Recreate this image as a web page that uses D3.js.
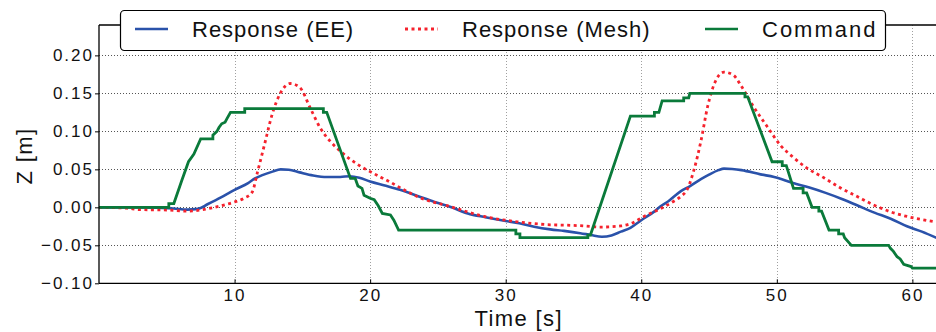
<!DOCTYPE html>
<html>
<head>
<meta charset="utf-8">
<script src="https://cdn.jsdelivr.net/npm/d3@7"></script>
<style>
  html, body { margin: 0; padding: 0; background: #fff; }
  svg { display: block; font-family: "Liberation Sans", Arial, Helvetica, sans-serif; }
</style>
</head>
<body>
<svg id="chart" width="936" height="332"></svg>
<script>
// End-effector response
const timeEE = [0, 3, 5.5, 6.5, 7.3, 8, 9, 10, 11, 11.5, 12, 12.8, 13.4, 14, 14.8, 15.8, 16.8, 17.8, 18.5, 19.2, 20, 21, 22.2, 23.5, 24.7, 26, 27.2, 28.5, 30, 31, 32.1, 33.3, 34.3, 35.5, 36.3, 37.1, 37.8, 38.5, 39.2, 40, 41, 41.4, 42, 42.9, 43.6, 44.4, 45, 45.7, 46.1, 46.7, 47.4, 48.8, 49.8, 51.2, 52.4, 53.6, 54.8, 56, 57.2, 58.4, 59.6, 60.7, 62];
const zEE    = [0, 0, -0.0015, -0.003, -0.002, 0.004, 0.013, 0.023, 0.032, 0.038, 0.042, 0.047, 0.05, 0.0495, 0.046, 0.042, 0.040, 0.040, 0.041, 0.039, 0.034, 0.029, 0.023, 0.015, 0.0074, 0, -0.008, -0.013, -0.018, -0.021, -0.0255, -0.029, -0.031, -0.034, -0.0365, -0.0387, -0.037, -0.032, -0.027, -0.017, -0.005, 0.001, 0.008, 0.021, 0.028, 0.037, 0.043, 0.049, 0.051, 0.0505, 0.049, 0.0434, 0.040, 0.032, 0.026, 0.019, 0.011, 0.002, -0.007, -0.015, -0.025, -0.032, -0.042];

// Mesh response
const timeMesh = [0, 2, 3, 5, 6.5, 7.5, 8.5, 9.2, 10, 10.7, 11.3, 11.7, 12.2, 12.8, 13.4, 14.1, 14.8, 15.6, 16.3, 17.1, 17.8, 18.55, 19.3, 20, 21.5, 22.7, 23.5, 25.9, 28.4, 30.85, 33.3, 34.5, 35.8, 37, 38.5, 39.3, 40.2, 41.4, 42.4, 42.9, 43.4, 43.9, 44.4, 44.9, 45.4, 46.1, 46.8, 47.4, 48.3, 49.3, 50.3, 51.2, 52.2, 53.5, 54.7, 55.9, 57.1, 58.4, 59.6, 60.7, 62];
const zMesh    = [0, -0.001, -0.003, -0.0035, -0.005, -0.0035, 0.0, 0.003, 0.007, 0.012, 0.02, 0.047, 0.082, 0.124, 0.151, 0.163, 0.158, 0.13, 0.105, 0.086, 0.074, 0.063, 0.054, 0.047, 0.033, 0.021, 0.014, 0.001, -0.012, -0.019, -0.023, -0.0235, -0.0245, -0.026, -0.0245, -0.021, -0.012, -0.002, 0.008, 0.014, 0.024, 0.05, 0.087, 0.133, 0.163, 0.178, 0.174, 0.159, 0.132, 0.106, 0.081, 0.066, 0.052, 0.0386, 0.0255, 0.0145, 0.0035, -0.006, -0.012, -0.016, -0.020];

// Commanded position (piecewise, with steps)
const timeCmd = [0, 5.15, 5.15, 5.52, 6.1, 6.6, 7.0, 7.5, 8.4, 8.4, 8.7, 8.85, 9.05, 9.3, 9.45, 9.7, 10.75, 10.75, 16.55, 16.55, 16.8, 18.55, 18.9, 19.1, 19.4, 19.55, 20.0, 20.3, 20.6, 20.9, 21.5, 21.75, 22.1, 30.75, 30.75, 31.05, 31.05, 36.06, 36.06, 36.25, 39.2, 40.97, 40.97, 41.3, 41.54, 43.13, 43.13, 43.5, 43.58, 47.65, 47.65, 47.85, 49.65, 50.4, 50.4, 50.7, 51.23, 51.94, 51.94, 52.2, 52.6, 53.1, 53.1, 53.3, 53.85, 54.56, 54.56, 54.9, 55.0, 55.5, 58.25, 58.38, 58.6, 58.87, 59.1, 59.36, 59.9, 60.0, 62];
const zCmd    = [0, 0, 0.005, 0.005, 0.035, 0.06, 0.07, 0.09, 0.09, 0.095, 0.1, 0.105, 0.11, 0.112, 0.117, 0.125, 0.125, 0.13, 0.13, 0.125, 0.125, 0.038, 0.038, 0.028, 0.025, 0.016, 0.012, 0.01, 0.002, -0.008, -0.01, -0.017, -0.03, -0.03, -0.035, -0.035, -0.04, -0.04, -0.0365, -0.0365, 0.12, 0.12, 0.125, 0.125, 0.14, 0.14, 0.144, 0.144, 0.15, 0.15, 0.1455, 0.1455, 0.06, 0.06, 0.055, 0.055, 0.025, 0.025, 0.019, 0.019, 0.0, 0.0, -0.005, -0.005, -0.03, -0.03, -0.035, -0.035, -0.04, -0.05, -0.05, -0.054, -0.058, -0.065, -0.068, -0.075, -0.078, -0.08, -0.08];

const xTicks = [10, 20, 30, 40, 50, 60];
const yTicks = [-0.10, -0.05, 0.00, 0.05, 0.10, 0.15, 0.20];

const legendLabels = ["Response (EE)", "Response (Mesh)", "Command"];
const seriesColors = ["#2a52aa", "#f5222d", "#0a7a3a"];

const svg = d3.select("#chart");
const plot = { left: 99, right: 939.5, top: 25, bottom: 283.3 };

const x = d3.scaleLinear().domain([0, 62]).range([plot.left, plot.right]);
const y = d3.scaleLinear().domain([-0.10, 0.24]).range([plot.bottom, plot.top]);

svg.append("defs").append("clipPath").attr("id", "plotClip")
  .append("rect")
  .attr("x", plot.left).attr("y", plot.top)
  .attr("width", plot.right - plot.left).attr("height", plot.bottom - plot.top);

// Grid
const grid = svg.append("g");
grid.selectAll("line.vg").data(xTicks).join("line")
  .attr("x1", d => Math.round(x(d)) + 0.5).attr("x2", d => Math.round(x(d)) + 0.5)
  .attr("y1", plot.top).attr("y2", plot.bottom)
  .attr("stroke", "#a0a0a0").attr("stroke-width", 1).attr("stroke-dasharray", "1,2");
grid.selectAll("line.hg").data(yTicks.filter(d => d > -0.1)).join("line")
  .attr("x1", plot.left).attr("x2", plot.right)
  .attr("y1", d => Math.round(y(d)) + 0.5).attr("y2", d => Math.round(y(d)) + 0.5)
  .attr("stroke", "#555").attr("stroke-width", 1).attr("stroke-dasharray", "1,2");

// Series
const lines = svg.append("g").attr("clip-path", "url(#plotClip)");
const smooth = d3.line().x(d => x(d[0])).y(d => y(d[1])).curve(d3.curveMonotoneX);
const steps = d3.line().x(d => x(d[0])).y(d => y(d[1]));

lines.append("path")
  .attr("d", smooth(d3.zip(timeEE, zEE)))
  .attr("fill", "none").attr("stroke", seriesColors[0]).attr("stroke-width", 2.6);
lines.append("path")
  .attr("d", smooth(d3.zip(timeMesh, zMesh)))
  .attr("fill", "none").attr("stroke", seriesColors[1]).attr("stroke-width", 2.8)
  .attr("stroke-dasharray", "3,3.5");
lines.append("path")
  .attr("d", steps(d3.zip(timeCmd, zCmd)))
  .attr("fill", "none").attr("stroke", seriesColors[2]).attr("stroke-width", 2.8)
  .attr("stroke-linejoin", "miter");

// Axes
const xAxis = d3.axisBottom(x).tickValues(xTicks).tickFormat(d3.format("d")).tickSizeInner(-4).tickSizeOuter(0).tickPadding(5.5);
const yAxis = d3.axisLeft(y).tickValues(yTicks).tickFormat(d => d3.format(".2f")(d).replace("-", "\u2212")).tickSizeInner(4).tickSizeOuter(0).tickPadding(3);

const gx = svg.append("g").attr("transform", `translate(0,${plot.bottom})`).call(xAxis);
const gy = svg.append("g").attr("transform", `translate(${plot.left},0)`).call(yAxis);
[gx, gy].forEach(g => {
  g.select(".domain").remove();
  g.selectAll(".tick line").attr("stroke", "#000").attr("stroke-width", 1);
  g.selectAll(".tick text").attr("fill", "#111")
    .style("font-size", "17px").style("letter-spacing", "2px")
    .style("font-family", "'Liberation Sans', Arial, sans-serif");
});
gx.selectAll(".tick text").attr("dy", "0.71em");
gy.selectAll(".tick text").attr("dx", "2px");

// Spines
svg.append("line").attr("x1", plot.left).attr("x2", plot.left).attr("y1", plot.top).attr("y2", plot.bottom)
  .attr("stroke", "#000").attr("stroke-width", 1.3);
svg.append("line").attr("x1", plot.left).attr("x2", 936).attr("y1", plot.bottom).attr("y2", plot.bottom)
  .attr("stroke", "#000").attr("stroke-width", 1.3);
svg.append("line").attr("x1", plot.left).attr("x2", 936).attr("y1", plot.top).attr("y2", plot.top)
  .attr("stroke", "#000").attr("stroke-width", 1.3);

// Axis titles
svg.append("text").attr("x", (x(30) + 13)).attr("y", 325.5)
  .attr("text-anchor", "middle").style("font-size", "22px").style("letter-spacing", "1.4px").attr("fill", "#111")
  .text("Time [s]");
svg.append("text").attr("transform", "translate(32,156) rotate(-90)")
  .attr("text-anchor", "middle").style("font-size", "22px").style("letter-spacing", "1.4px").attr("fill", "#111")
  .text("Z [m]");

// Legend
const legend = svg.append("g");
legend.append("rect").attr("x", 120.5).attr("y", 10.5).attr("width", 765).attr("height", 40).attr("rx", 4)
  .attr("fill", "#fff").attr("stroke", "#000").attr("stroke-width", 1.2);
const entryX = [135, 405, 705];
legendLabels.forEach((label, i) => {
  const ln = legend.append("line").attr("x1", entryX[i]).attr("x2", entryX[i] + 33).attr("y1", 29).attr("y2", 29)
    .attr("stroke", seriesColors[i]).attr("stroke-width", i === 1 ? 2.8 : 2.6);
  if (i === 1) ln.attr("stroke-dasharray", "3,3.5");
  legend.append("text").attr("x", entryX[i] + 57).attr("y", 37)
    .style("font-size", "22px").style("letter-spacing", i === 2 ? "2px" : "1px").attr("fill", "#111")
    .text(label);
});
</script>
</body>
</html>
